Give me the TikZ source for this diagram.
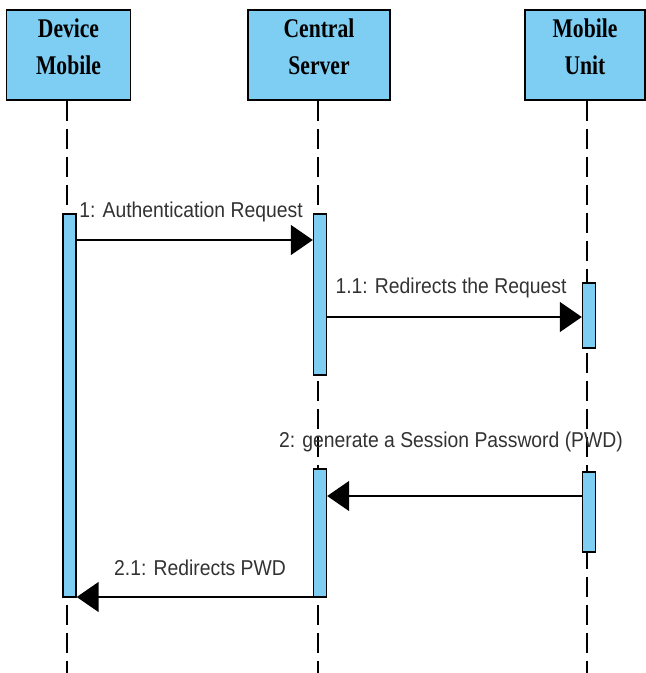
\documentclass[tikz,border=0pt]{standalone}
\usepackage{fontspec}
\usetikzlibrary{arrows.meta,calc}
\newfontfamily\hdrfont[FakeStretch=0.8]{Liberation Serif}
\newfontfamily\lblfont[FakeStretch=0.9]{Liberation Sans}
\definecolor{boxblue}{RGB}{126,206,244}
\definecolor{lbltext}{RGB}{50,50,50}
\tikzset{
  hbox/.style={draw=black, line width=1.6pt, fill=boxblue, rectangle, minimum height=90pt, inner sep=0pt},
  htext/.style={font=\hdrfont\bfseries\fontsize{27}{37}\selectfont, align=center, inner sep=0pt},
  life/.style={draw=black, line width=1.2pt, dash pattern=on 20pt off 8pt},
  actbar/.style={draw=black, line width=1.4pt, fill=boxblue, rectangle, minimum width=13pt, inner sep=0pt},
  msg/.style={draw=black, line width=1.5pt, -{Triangle[length=22pt, width=30pt]}},
  lbl/.style={font=\lblfont\fontsize{21.5}{24}\selectfont, text=lbltext, inner sep=0pt, anchor=base}
}
\begin{document}
\begin{tikzpicture}[x=1pt, y=-1pt]
\useasboundingbox (0,0) rectangle (646,673);
% headers
\node[hbox, minimum width=124pt] (dm) at (68.5,55) {};
\node[hbox, minimum width=142pt] (cs) at (319,55) {};
\node[hbox, minimum width=120pt] (mu) at (585,55) {};
\node[htext] (dmt) at ($(dm.center)+(0,-8.4)$) {Device\\Mobile};
\node[htext] (cst) at ($(cs.center)+(0,-8.4)$) {Central\\Server};
\node[htext] (mut) at ($(mu.center)+(0,-8.4)$) {Mobile\\Unit};
% lifeline ends
\coordinate (dmend) at (67,673);
\coordinate (csend) at (318,673);
\coordinate (muend) at (587,673);
\draw[life] (dm.south -| dmend) -- (dmend);
\draw[life] (cs.south -| csend) -- (csend);
\draw[life] (mu.south -| muend) -- (muend);
% activation bars
\node[actbar, minimum height=383pt] (dmA) at (69.5,405.5) {};
\node[actbar, minimum height=161pt] (csA) at (320,294.5) {};
\node[actbar, minimum height=65pt] (muA) at (589,315.5) {};
\node[actbar, minimum height=128pt] (csB) at (320,533) {};
\node[actbar, minimum height=80pt] (muB) at (589,512) {};
% message levels
\coordinate (y1) at (0,240);
\coordinate (y2) at (0,317);
\coordinate (y3) at (0,496);
\coordinate (y4) at (0,597);
\draw[msg] (dmA.east |- y1) -- (csA.west |- y1);
\draw[msg] (csA.east |- y2) -- (muA.west |- y2);
\draw[msg] (muB.west |- y3) -- (csB.east |- y3);
\draw[msg] (csB.west |- y4) -- (dmA.east |- y4);
% labels
\node[lbl] (l1) at (191,217) {1: Authentication Request};
\node[lbl] (l2) at (451,293) {1.1: Redirects the Request};
\node[lbl] (l3) at (451,447) {2: generate a Session Password (PWD)};
\node[lbl] (l4) at (200,575) {2.1: Redirects PWD};
\end{tikzpicture}
\end{document}
